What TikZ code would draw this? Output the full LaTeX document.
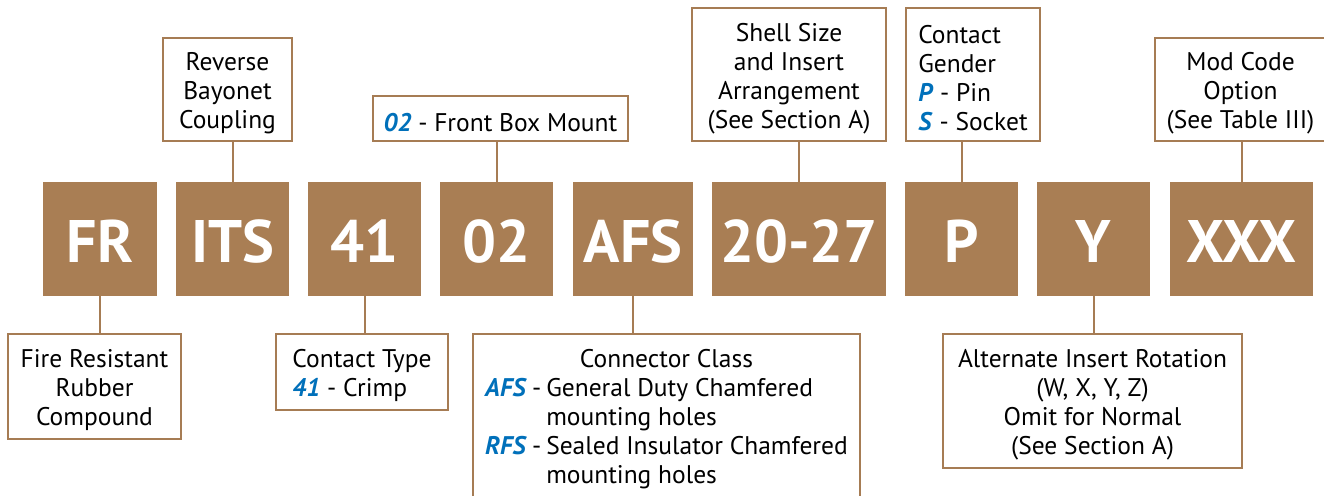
\documentclass[tikz,border=0pt]{standalone}
\usepackage{fontspec}
\setmainfont{PT Sans}
\definecolor{codebrown}{RGB}{169,126,84}
\definecolor{boxbrown}{RGB}{166,124,84}
\definecolor{keyblue}{RGB}{0,112,186}
\newcommand{\key}[1]{\textcolor{keyblue}{\textbf{\textit{#1}}}}
\newcommand{\lead}{\rule{0pt}{26pt}}
\begin{document}
\begin{tikzpicture}[
		x=1pt, y=-1pt,
		code/.style={fill=codebrown, text=white, inner sep=0pt, minimum height=114pt, text height=47pt, text depth=0pt, font=\fontsize{60}{60}\selectfont\bfseries},
		info/.style={draw=boxbrown, line width=2.2pt, fill=white, inner sep=0pt, align=center, font=\fontsize{25.5}{29}\selectfont},
		stem/.style={draw=boxbrown, line width=2pt},
	]
	\useasboundingbox (0,0) rectangle (1324,495);
	% part number fields
	\node[code, minimum width=114pt] (cFR) at (100,239) {FR};
	\node[code, minimum width=113pt] (cITS) at (232.5,239) {ITS};
	\node[code, minimum width=113pt] (cType) at (364.5,239) {41};
	\node[code, minimum width=113pt] (cMount) at (496.5,239) {02};
	\node[code, minimum width=120pt] (cClass) at (633,239) {AFS};
	\node[code, minimum width=174pt] (cShell) at (799,239) {20-27};
	\node[code, minimum width=113pt] (cGender) at (961.5,239) {P};
	\node[code, minimum width=113pt] (cRot) at (1093.5,239) {Y};
	\node[code, minimum width=143pt] (cMod) at (1241.5,239) {XXX};
	% upper descriptions
	\node[info, minimum width=129pt, minimum height=103pt] (lITS) at (227.5,89.5) {\lead Reverse\\Bayonet\\Coupling};
	\node[info, minimum width=255pt, minimum height=45pt] (lMount) at (500.5,118.5) {\lead\key{02} - Front Box Mount};
	\node[info, minimum width=194pt, minimum height=133pt] (lShell) at (789,74.5) {\lead Shell Size\\and Insert\\Arrangement\\(See Section A)};
	\node[info, align=left, minimum width=134pt, minimum height=133pt] (lGender) at (973,74.5) {\lead Contact\\Gender\\\key{P} - Pin\\\key{S} - Socket};
	\node[info, minimum width=171pt, minimum height=103pt] (lMod) at (1240.5,89.5) {\lead Mod Code\\Option\\(See Table III)};
	% lower descriptions
	\node[info, minimum width=173pt, minimum height=105pt] (lFR) at (94.5,386.5) {\lead Fire Resistant\\Rubber\\Compound};
	\node[info, align=left, minimum width=172pt, minimum height=76pt] (lType) at (362,372) {\lead Contact Type\\\key{41} - Crimp};
	\node[info, minimum width=387pt, minimum height=166pt] (lClass) at (666.5,417) {%
		\begin{tabular}{@{}l@{\hspace{5pt}}l@{\hspace{5pt}}l@{}}
			\multicolumn{3}{c}{\rule{0pt}{25pt}Connector Class}\\
			\key{AFS} & - & General Duty Chamfered\\
			          &   & mounting holes\\
			\key{RFS} & - & Sealed Insulator Chamfered\\
			          &   & mounting holes
		\end{tabular}};
	\node[info, minimum width=299pt, minimum height=134pt] (lRot) at (1092.5,401) {\lead Alternate Insert Rotation\\(W, X, Y, Z)\\Omit for Normal\\(See Section A)};
	% stems
	\draw[stem] (cITS.north) -- (cITS.north |- lITS.south);
	\draw[stem] (cMount.north) -- (cMount.north |- lMount.south);
	\draw[stem] (cShell.north) -- (cShell.north |- lShell.south);
	\draw[stem] (cGender.north) -- (cGender.north |- lGender.south);
	\draw[stem] (cMod.north) -- (cMod.north |- lMod.south);
	\draw[stem] (cFR.south) -- (cFR.south |- lFR.north);
	\draw[stem] (cType.south) -- (cType.south |- lType.north);
	\draw[stem] (cClass.south) -- (cClass.south |- lClass.north);
	\draw[stem] (cRot.south) -- (cRot.south |- lRot.north);
\end{tikzpicture}
\end{document}
